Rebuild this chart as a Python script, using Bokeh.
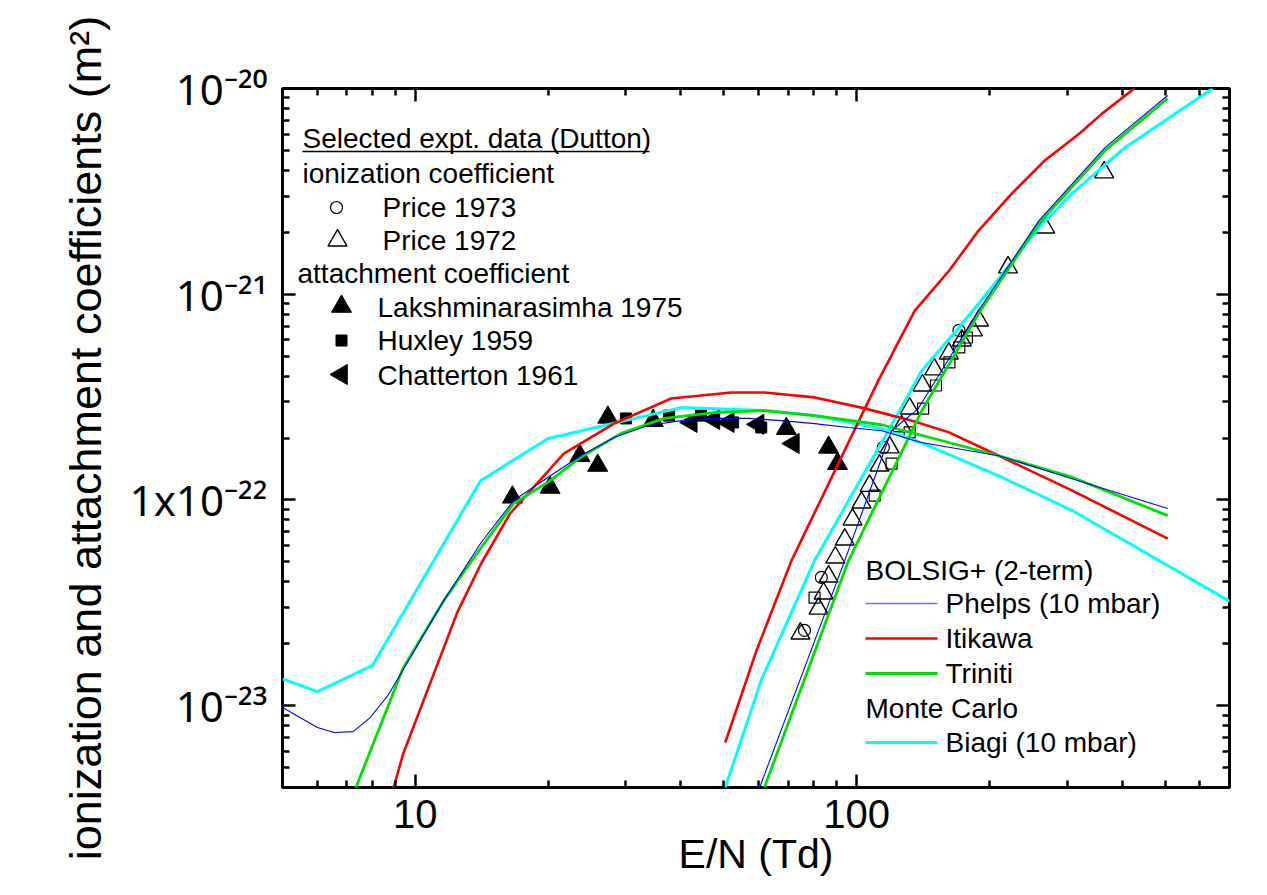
import numpy as np
from bokeh.plotting import figure
from bokeh.models import Range1d, LinearScale, LogAxis, FixedTicker, Label
from bokeh.embed import file_html
from bokeh.resources import INLINE

# ---------------- data (E/N in Td, coefficient in m^2) ----------------
# attachment coefficients, BOLSIG+ / Monte Carlo
att_phelps_E = [5.0, 6.0, 6.55, 7.23, 7.9, 8.69, 11.6, 14.1, 16.7, 20.0, 23.7, 28.2, 33.7, 40, 47.5, 56.8, 67.6, 80.3, 95.9, 114, 140, 210, 300, 507]
att_phelps_y = [9.8e-24, 7.83e-24, 7.40e-24, 7.48e-24, 8.75e-24, 1.13e-23, 3.24e-23, 6.21e-23, 9.93e-23, 1.29e-22, 1.64e-22, 2.01e-22, 2.30e-22, 2.43e-22, 2.49e-22, 2.49e-22, 2.43e-22, 2.35e-22, 2.25e-22, 2.17e-22, 1.90e-22, 1.64e-22, 1.29e-22, 9.08e-23]

att_itikawa_E = [8.9, 9.39, 12.45, 14.1, 16.4, 21.7, 28.2, 38, 52, 61.8, 80.3, 102.6, 133, 162, 210, 308, 507]
att_itikawa_y = [3.9e-24, 5.85e-24, 2.84e-23, 4.91e-23, 8.59e-23, 1.68e-22, 2.35e-22, 3.11e-22, 3.33e-22, 3.33e-22, 3.15e-22, 2.81e-22, 2.43e-22, 2.13e-22, 1.64e-22, 1.11e-22, 6.49e-23]

att_triniti_E = [7.3, 9.39, 11.6, 14.1, 16.7, 20.0, 23.7, 29.2, 36.6, 47.5, 61.8, 80.3, 114, 210, 308, 507]
att_triniti_y = [3.9e-24, 1.53e-23, 3.24e-23, 5.87e-23, 9.61e-23, 1.22e-22, 1.61e-22, 2.10e-22, 2.49e-22, 2.66e-22, 2.72e-22, 2.57e-22, 2.32e-22, 1.64e-22, 1.29e-22, 8.39e-23]

att_biagi_E = [5.0, 6.0, 8.0, 14.05, 20, 40, 61.8, 80.3, 114, 140, 210, 308, 708]
att_biagi_y = [1.35e-23, 1.17e-23, 1.57e-23, 1.24e-22, 1.99e-22, 2.81e-22, 2.72e-22, 2.57e-22, 2.22e-22, 1.90e-22, 1.31e-22, 8.88e-23, 3.17e-23]

# ionization coefficients
ion_phelps_E = [60.3, 94, 120, 138, 189, 259, 366, 507]
ion_phelps_y = [4.0e-24, 5.07e-23, 2.17e-22, 2.78e-22, 8.33e-22, 2.28e-21, 5.17e-21, 9.25e-21]

ion_itikawa_E = [50.4, 59.3, 71.2, 112, 135.5, 162, 189, 225, 267, 320, 360, 426]
ion_itikawa_y = [6.62e-24, 1.85e-23, 5.07e-23, 3.80e-22, 8.33e-22, 1.30e-21, 2.04e-21, 3.09e-21, 4.47e-21, 6.04e-21, 7.55e-21, 1.0e-20]

ion_triniti_E = [61.8, 95.9, 140.6, 189, 259, 366, 507]
ion_triniti_y = [4.0e-24, 5.07e-23, 2.72e-22, 8.05e-22, 2.21e-21, 5.0e-21, 8.94e-21]

ion_biagi_E = [50.4, 60.8, 80.3, 118, 140.6, 170.6, 206, 259, 308, 406, 641]
ion_biagi_y = [4.0e-24, 1.33e-23, 5.07e-23, 2.17e-22, 4.26e-22, 6.89e-22, 1.13e-21, 2.11e-21, 3.09e-21, 5.17e-21, 1.0e-20]

# experimental data (Dutton)
price1972_E = [74.6, 82, 84.2, 86.4, 89.5, 94, 97.9, 102.6, 107, 112.7, 118.8, 126.5, 131.9, 141, 150, 161.8, 173.2, 183.5, 189.4, 220.4, 267.5, 364]
price1972_y = [2.24e-23, 2.96e-23, 3.51e-23, 4.24e-23, 5.25e-23, 6.42e-23, 8.03e-23, 9.71e-23, 1.17e-22, 1.47e-22, 1.80e-22, 2.28e-22, 2.78e-22, 3.60e-22, 4.31e-22, 5.15e-22, 5.96e-22, 6.67e-22, 7.45e-22, 1.35e-21, 2.11e-21, 3.91e-21]

price1973_E = [76.2, 83.2, 115, 170.6]
price1973_y = [2.32e-23, 4.20e-23, 1.80e-22, 6.67e-22]

open_sq_E = [80.3, 109.9, 120, 131.9, 141.5, 151.3, 162.3, 170.9, 177.8]
open_sq_y = [3.35e-23, 1.05e-22, 1.50e-22, 2.13e-22, 2.78e-22, 3.60e-22, 4.66e-22, 5.51e-22, 6.16e-22]

laksh_E = [16.6, 20.2, 23.6, 25.9, 27.3, 34.6, 69.3, 86.4, 90.5]
laksh_y = [1.03e-22, 1.15e-22, 1.64e-22, 1.47e-22, 2.52e-22, 2.43e-22, 2.22e-22, 1.80e-22, 1.50e-22]

huxley_E = [30, 37.6, 44.4, 52.5, 60.8]
huxley_y = [2.49e-22, 2.57e-22, 2.57e-22, 2.38e-22, 2.25e-22]

chatterton_E = [42.2, 47.5, 51.2, 59.8, 71.9]
chatterton_y = [2.38e-22, 2.46e-22, 2.38e-22, 2.33e-22, 1.88e-22]

x_major = [10, 100]
x_labels = ["10", "100"]
y_major = [1e-20, 1e-21, 1e-22, 1e-23]
y_labels = ["10\u207b\u00b2\u2070", "10\u207b\u00b2\u00b9", "1x10\u207b\u00b2\u00b2", "10\u207b\u00b2\u00b3"]

# ---------------- figure ----------------
XMIN, XMAX = 5.0, 700.0
YMIN, YMAX = 4e-24, 1e-20
FW, FH = 947, 699
FONT = "Liberation Sans"

p = figure(frame_width=FW, frame_height=FH, x_axis_type="log", y_axis_type="log",
           x_range=Range1d(XMIN, XMAX), y_range=Range1d(YMIN, YMAX),
           output_backend="svg", toolbar_location=None,
           min_border_left=282, min_border_right=38, min_border_top=88, min_border_bottom=108)
p.xgrid.visible = False
p.ygrid.visible = False
p.outline_line_color = "black"
p.outline_line_width = 3
p.background_fill_color = "white"
p.border_fill_color = "white"

# pixel coordinate system over the frame (for the in-frame legends)
p.extra_x_ranges = {"px": Range1d(0, FW)}
p.extra_x_scales = {"px": LinearScale()}
p.extra_y_ranges = {"py": Range1d(0, FH)}
p.extra_y_scales = {"py": LinearScale()}

def fx(X):  # page x -> frame px
    return X - 282

def fy(Y):  # page y -> frame px (from bottom)
    return 787 - Y

x_minor = [5, 6, 7, 8, 9] + [m * 10 for m in range(2, 10)] + [m * 100 for m in range(2, 8)]
y_minor = [m * d for d in (1e-24, 1e-23, 1e-22, 1e-21) for m in range(2, 10)]
xt = FixedTicker(ticks=x_major, minor_ticks=x_minor)
yt = FixedTicker(ticks=y_major, minor_ticks=y_minor)

top = LogAxis()
right = LogAxis()
p.add_layout(top, "above")
p.add_layout(right, "right")
bx = p.below[0]
ly = p.left[0]
for ax, t in [(bx, xt), (top, xt), (ly, yt), (right, yt)]:
    ax.ticker = t
    ax.axis_line_color = None
    ax.major_tick_in = 13
    ax.major_tick_out = 0
    ax.minor_tick_in = 7
    ax.minor_tick_out = 0
    ax.major_tick_line_width = 2.5
    ax.minor_tick_line_width = 2.5
    ax.major_tick_line_color = "black"
    ax.minor_tick_line_color = "black"
    ax.major_label_text_font = FONT
    ax.major_label_text_color = "black"

for ax in (top, right):
    ax.major_label_text_font_size = "2px"
    ax.major_label_text_color = None

bx.major_label_overrides = {v: s for v, s in zip(x_major, x_labels)}
bx.major_label_text_font_size = "40px"
bx.major_label_standoff = 12
bx.axis_label = "E/N (Td)"
bx.axis_label_text_font = FONT
bx.axis_label_text_font_size = "41px"
bx.axis_label_text_font_style = "normal"
bx.axis_label_text_color = "black"
bx.axis_label_standoff = 0

ly.major_label_overrides = {v: s for v, s in zip(y_major, y_labels)}
ly.major_label_text_font = "Noto Sans"
ly.major_label_text_font_size = "42px"
ly.major_label_standoff = 15
ly.axis_label = "ionization and attachment coefficients (m\u00b2)"
ly.axis_label_text_font = FONT
ly.axis_label_text_font_size = "45px"
ly.axis_label_text_font_style = "normal"
ly.axis_label_text_color = "black"
ly.axis_label_standoff = 16

# ---------------- experimental markers ----------------
p.scatter(price1972_E, price1972_y, marker="triangle", size=19, fill_color=None, line_color="black", line_width=1.4)
p.scatter(price1973_E, price1973_y, marker="circle", size=12, fill_color=None, line_color="black", line_width=1.2)
p.scatter(open_sq_E, open_sq_y, marker="square", size=11, fill_color=None, line_color="black", line_width=1.2)
p.scatter(laksh_E, laksh_y, marker="triangle", size=20, fill_color="black", line_color="black")
p.scatter(huxley_E, huxley_y, marker="square", size=11, fill_color="black", line_color="black")
p.scatter(chatterton_E, chatterton_y, marker="triangle", size=20, angle=np.pi / 2, fill_color="black", line_color="black")

# ---------------- curves ----------------
BLUE, RED, GREEN, CYAN = "#0000ff", "#ff0000", "#00e000", "#00ffff"
p.line(att_biagi_E, att_biagi_y, line_color=CYAN, line_width=3)
p.line(ion_biagi_E, ion_biagi_y, line_color=CYAN, line_width=3)
p.line(att_itikawa_E, att_itikawa_y, line_color=RED, line_width=2.6)
p.line(ion_itikawa_E, ion_itikawa_y, line_color=RED, line_width=2.6)
p.line(att_triniti_E, att_triniti_y, line_color=GREEN, line_width=2.8)
p.line(ion_triniti_E, ion_triniti_y, line_color=GREEN, line_width=2.8)
p.line(att_phelps_E, att_phelps_y, line_color=BLUE, line_width=1.1)
p.line(ion_phelps_E, ion_phelps_y, line_color=BLUE, line_width=1.1)

# ---------------- helper for in-frame text ----------------
def text(X, Y, s, size="28px", align="left", baseline="middle"):
    p.add_layout(Label(x=X, y=Y, x_range_name="px", y_range_name="py", text=s,
                       text_font=FONT, text_font_size=size, text_align=align,
                       text_baseline=baseline, text_color="black"))

# upper-left legend
text(fx(302), fy(138), "Selected expt. data (Dutton)")
p.segment(x0=[fx(302)], y0=[fy(151)], x1=[fx(649)], y1=[fy(151)], x_range_name="px", y_range_name="py",
          line_color="black", line_width=1.5)
text(fx(302), fy(173), "ionization coefficient")
text(fx(382), fy(207), "Price 1973")
text(fx(382), fy(240), "Price 1972")
text(fx(297), fy(273), "attachment coefficient")
text(fx(377), fy(307), "Lakshminarasimha 1975")
text(fx(377), fy(340), "Huxley 1959")
text(fx(377), fy(375), "Chatterton 1961")
p.scatter([fx(336)], [fy(207)], marker="circle", size=12, fill_color=None, line_color="black", line_width=1.2,
          x_range_name="px", y_range_name="py")
p.scatter([fx(337)], [fy(240)], marker="triangle", size=19, fill_color=None, line_color="black", line_width=1.4,
          x_range_name="px", y_range_name="py")
p.scatter([fx(341)], [fy(306)], marker="triangle", size=20, fill_color="black", line_color="black",
          x_range_name="px", y_range_name="py")
p.scatter([fx(341)], [fy(340)], marker="square", size=11, fill_color="black", line_color="black",
          x_range_name="px", y_range_name="py")
p.scatter([fx(341)], [fy(374)], marker="triangle", size=20, angle=np.pi / 2, fill_color="black", line_color="black",
          x_range_name="px", y_range_name="py")

# lower-right legend
text(fx(865), fy(570), "BOLSIG+ (2-term)")
for Yl, col, w, lab in [(603, "#7070ff", 1.6, "Phelps (10 mbar)"), (638, RED, 2.6, "Itikawa"),
                        (673, GREEN, 2.8, "Triniti"), (742, CYAN, 3, "Biagi (10 mbar)")]:
    p.segment(x0=[fx(865)], y0=[fy(Yl)], x1=[fx(937)], y1=[fy(Yl)], x_range_name="px", y_range_name="py",
              line_color=col, line_width=w)
    text(fx(945), fy(Yl), lab)
text(fx(865), fy(708), "Monte Carlo")

open("out.html", "w").write(file_html(p, INLINE))
